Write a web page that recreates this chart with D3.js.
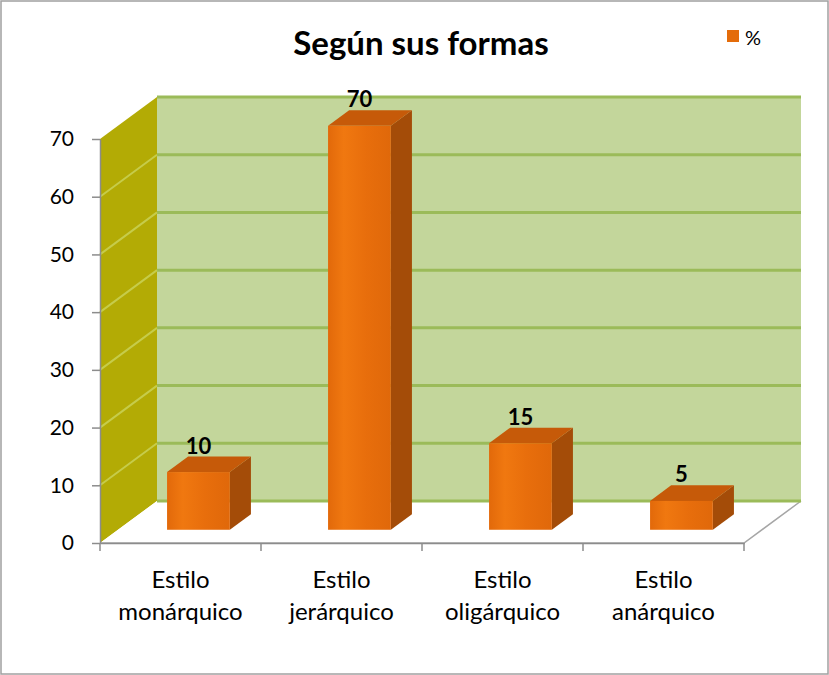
<!DOCTYPE html>
<html>
<head>
<meta charset="utf-8">
<script src="https://cdn.jsdelivr.net/npm/d3@7"></script>
<style>
  body { margin: 0; background: #fff; }
  svg { display: block; font-family: Lato, "Open Sans", sans-serif; }
</style>
</head>
<body>
<svg id="chart" width="829" height="675"></svg>
<script>
// data
const categories = ["Estilo monárquico", "Estilo jerárquico", "Estilo oligárquico", "Estilo anárquico"];
const values = [10, 70, 15, 5];
const yTicks = [0, 10, 20, 30, 40, 50, 60, 70];
const seriesName = "%";
const title = "Según sus formas";

const svg = d3.select("#chart");
const width = +svg.attr("width");
const height = +svg.attr("height");

// front plane of the 3d box and the depth offset
const x = d3.scaleBand().domain(categories).range([100, 744]);
const y = d3.scaleLinear().domain([0, 70]).range([543, 139]);
const DX = 57, DY = -42;
const depthFront = 0.315, depthBack = 0.685;
const barFrac = 0.39;

// outer frame
svg.append("rect")
    .attr("x", 1).attr("y", 1)
    .attr("width", width - 2).attr("height", height - 2)
    .attr("fill", "#fff")
    .attr("stroke", "#a0a0a0")
    .attr("stroke-width", 1.5);

const defs = svg.append("defs");
const gFront = defs.append("linearGradient").attr("id", "front");
gFront.append("stop").attr("offset", "0%").attr("stop-color", "#e2690a");
gFront.append("stop").attr("offset", "25%").attr("stop-color", "#f07810");
gFront.append("stop").attr("offset", "60%").attr("stop-color", "#e86e0c");
gFront.append("stop").attr("offset", "100%").attr("stop-color", "#e0680a");

const x0 = x.range()[0], x1 = x.range()[1];
const line = d3.line();

// back wall
svg.append("path")
    .attr("d", line([[x0 + DX, y(70) + DY], [x1 + DX, y(70) + DY], [x1 + DX, y(0) + DY], [x0 + DX, y(0) + DY]]) + "Z")
    .attr("fill", "#c3d69b");

// side wall
svg.append("path")
    .attr("d", line([[x0, y(70)], [x0 + DX, y(70) + DY], [x0 + DX, y(0) + DY], [x0, y(0)]]) + "Z")
    .attr("fill", "#b3ab05");

// floor
svg.append("path")
    .attr("d", line([[x0, y(0)], [x0 + DX, y(0) + DY], [x1 + DX, y(0) + DY], [x1, y(0)]]) + "Z")
    .attr("fill", "#fff");
svg.append("path")
    .attr("d", line([[x0, y(0)], [x1, y(0)], [x1 + DX, y(0) + DY]]))
    .attr("fill", "none")
    .attr("stroke", "#a6a6a6")
    .attr("stroke-width", 1.5);

// gridlines on the back wall
svg.append("g")
    .selectAll("line")
    .data(yTicks)
    .join("line")
    .attr("x1", x0 + DX).attr("x2", x1 + DX)
    .attr("y1", d => y(d) + DY).attr("y2", d => y(d) + DY)
    .attr("stroke", "#9bbb59")
    .attr("stroke-width", 3);

// gridlines on the side wall
svg.append("g")
    .selectAll("line")
    .data(yTicks.filter(d => d > 0 && d < 70))
    .join("line")
    .attr("x1", x0).attr("x2", x0 + DX)
    .attr("y1", d => y(d)).attr("y2", d => y(d) + DY)
    .attr("stroke", "#c6cc4a")
    .attr("stroke-width", 2);

// y axis
svg.append("g")
    .attr("transform", `translate(${x0},0)`)
    .call(d3.axisLeft(y).tickValues(yTicks).tickSize(8).tickSizeOuter(0).tickPadding(18))
    .call(g => g.select(".domain").attr("stroke", "#8c8c8c").attr("stroke-width", 1.5))
    .call(g => g.selectAll(".tick line").attr("stroke", "#8c8c8c").attr("stroke-width", 1.5))
    .call(g => g.selectAll(".tick text")
        .attr("font-family", "Lato, sans-serif")
        .attr("font-size", 21)
        .attr("fill", "#000"));

// x axis (ticks sit on the category boundaries)
const xAxis = svg.append("g")
    .attr("transform", `translate(0,${y(0)})`)
    .call(d3.axisBottom(x).tickSize(0).tickFormat(""))
    .call(g => g.select(".domain").attr("stroke", "#8c8c8c").attr("stroke-width", 1.5));
xAxis.selectAll(".bound")
    .data([...categories.map(c => x(c)), x1])
    .join("line")
    .attr("class", "bound")
    .attr("x1", d => d).attr("x2", d => d)
    .attr("y1", 0).attr("y2", 8)
    .attr("stroke", "#8c8c8c")
    .attr("stroke-width", 1.5);

// category labels
const catText = svg.append("g")
    .selectAll("text")
    .data(categories)
    .join("text")
    .attr("text-anchor", "middle")
    .attr("font-size", 24)
    .attr("fill", "#000");
catText.selectAll("tspan")
    .data(d => d.split(" ").map(t => ({ t, c: d })))
    .join("tspan")
    .attr("x", d => x(d.c) + x.bandwidth() / 2)
    .attr("y", (d, i) => 588 + i * 32)
    .text(d => d.t);

// bars
const bars = categories.map((c, i) => {
    const w = x.bandwidth() * barFrac;
    const fx = x(c) + x.bandwidth() / 2 + DX * depthFront - w / 2;
    const fy0 = y(0) + DY * depthFront;
    const top = y(values[i]) + DY * depthFront;
    const ddx = DX * (depthBack - depthFront), ddy = DY * (depthBack - depthFront);
    return { c, v: values[i], fx, w, fy0, top, ddx, ddy };
});

const barG = svg.append("g")
    .selectAll("g")
    .data(bars)
    .join("g");

// side face
barG.append("path")
    .attr("d", d => line([[d.fx + d.w, d.top], [d.fx + d.w + d.ddx, d.top + d.ddy],
        [d.fx + d.w + d.ddx, d.fy0 + d.ddy], [d.fx + d.w, d.fy0]]) + "Z")
    .attr("fill", "#a44c08");
// top face
barG.append("path")
    .attr("d", d => line([[d.fx, d.top], [d.fx + d.ddx, d.top + d.ddy],
        [d.fx + d.w + d.ddx, d.top + d.ddy], [d.fx + d.w, d.top]]) + "Z")
    .attr("fill", "#c65a09");
// front face
barG.append("rect")
    .attr("x", d => d.fx)
    .attr("y", d => d.top)
    .attr("width", d => d.w)
    .attr("height", d => d.fy0 - d.top)
    .attr("fill", "url(#front)");

// value labels
barG.append("text")
    .attr("x", d => d.fx + d.w / 2)
    .attr("y", d => d.top + d.ddy - 3)
    .attr("text-anchor", "middle")
    .attr("font-size", 22)
    .attr("font-weight", "bold")
    .attr("fill", "#000")
    .text(d => d.v);

// title
svg.append("text")
    .attr("x", 421)
    .attr("y", 55)
    .attr("text-anchor", "middle")
    .attr("font-size", 33)
    .attr("font-weight", "bold")
    .attr("fill", "#000")
    .text(title);

// legend
svg.append("rect")
    .attr("x", 727).attr("y", 30)
    .attr("width", 12).attr("height", 12)
    .attr("fill", "#e46c0a");
svg.append("text")
    .attr("x", 745).attr("y", 45)
    .attr("font-size", 20)
    .attr("fill", "#000")
    .text(seriesName);
</script>
</body>
</html>
